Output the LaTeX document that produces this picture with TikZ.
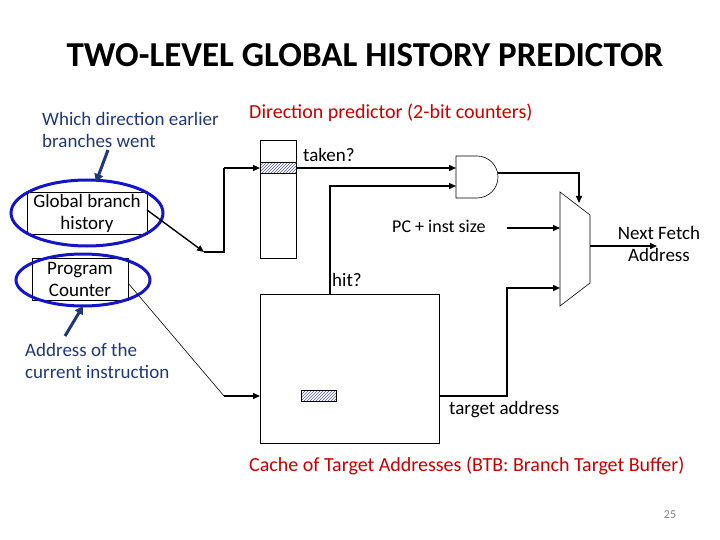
\documentclass[tikz,border=0pt]{standalone}
\usepackage{fontspec}
\setmainfont{Carlito}
\usetikzlibrary{patterns,arrows.meta}
\definecolor{navy}{RGB}{31,56,120}
\definecolor{ered}{RGB}{200,0,0}
\definecolor{eblue}{RGB}{20,20,200}
\begin{document}
\begin{tikzpicture}[x=1pt,y=-1pt,
  txt/.style={inner sep=0pt,font=\fontsize{19}{22}\selectfont},
  wire/.style={line width=1.4pt,-{Triangle[length=7pt,width=6pt]}},
  thin/.style={line width=0.6pt},
  hat/.style={draw,pattern=north east lines,pattern color=gray!70!blue},
  ell/.style={draw=eblue,line width=3pt},
  barrow/.style={draw=navy,line width=3pt,-{Triangle[length=8pt,width=9pt]}}]
\useasboundingbox (0,0) rectangle (720,540);
\node[inner sep=0pt,font=\fontsize{35}{40}\bfseries\selectfont] (title) at (365,55) {TWO-LEVEL GLOBAL HISTORY PREDICTOR};
\node[txt,anchor=west,align=left,text=navy] (which) at (42,130) {Which direction earlier\\branches went};
\node[txt,anchor=west,text=ered,font=\fontsize{20}{22}\selectfont] (dp) at (249,113) {Direction predictor (2-bit counters)};
% predictor
\draw[thin] (260,140) rectangle (296,258);
\node[hat,minimum width=36pt,minimum height=11pt,inner sep=0pt] (hp) at (278,168) {};
\coordinate (pred) at (260,168);
\node[txt,anchor=west] (taken) at (303,155) {taken?};
% AND gate
\draw[thin] (456,156) -- (477,156) arc[start angle=-90,end angle=90,radius=21] -- (456,198) -- cycle;
\coordinate (and1) at (456,168);
\coordinate (and2) at (456,186);
\draw[wire] (hp.east) -- (and1);
% BTB
\draw[thin] (260,294) rectangle (439,443);
\node[hat,minimum width=35pt,minimum height=11pt,inner sep=0pt] (hb) at (319,396) {};
\draw[wire] (330,294) -- (330,186) -- (and2);
\node[txt,anchor=west] (hit) at (332,280) {hit?};
% mux
\draw[thin] (560,192) -- (590,215) -- (590,283) -- (560,306) -- cycle;
\draw[wire] (498,173) -- (579,173) -- (579,203);
\node[txt,anchor=west,font=\fontsize{18}{22}\selectfont] (pcis) at (392,226) {PC + inst size};
\draw[wire] (507,228) -- (560,228);
\draw[wire] (439,396) -- (507,396) -- (507,288) -- (560,288);
\node[txt,anchor=west] (ta) at (449,410) {target address};
\draw[wire] (590,246) -- (657,246);
\node[txt,align=center] (nfa) at (659,244) {Next Fetch\\Address};
% left boxes
\node[txt,draw,thin,minimum width=120pt,minimum height=42pt,align=center,inner sep=0pt] (gbh) at (87,213) {Global branch\\history};
\draw[ell] (87,213) ellipse[x radius=76,y radius=33];
\node[txt,draw,thin,minimum width=96pt,minimum height=42pt,align=center,inner sep=0pt] (pc) at (80,279) {Program\\Counter};
\draw[ell] (83,280) ellipse[x radius=67,y radius=26];
\draw[wire] (147,210) -- (204,252);
\draw[line width=1.4pt] (204,252) -- (224,252) -- (224,168);
\draw[wire] (224,168) -- (pred);
\draw[thin] (128,283) -- (224,396);
\draw[wire] (224,396) -- (260,396);
\draw[barrow] (108,150) -- (96,182);
\draw[barrow] (65,336) -- (83,306);
\node[txt,anchor=west,align=left,text=navy] (addr) at (25,361) {Address of the\\current instruction};
\node[txt,anchor=west,text=ered,font=\fontsize{20}{22}\selectfont] (cache) at (249,466) {Cache of Target Addresses (BTB: Branch Target Buffer)};
\node[inner sep=0pt,font=\fontsize{12}{14}\selectfont,text=gray] (pg) at (670,515) {25};
\end{tikzpicture}
\end{document}
